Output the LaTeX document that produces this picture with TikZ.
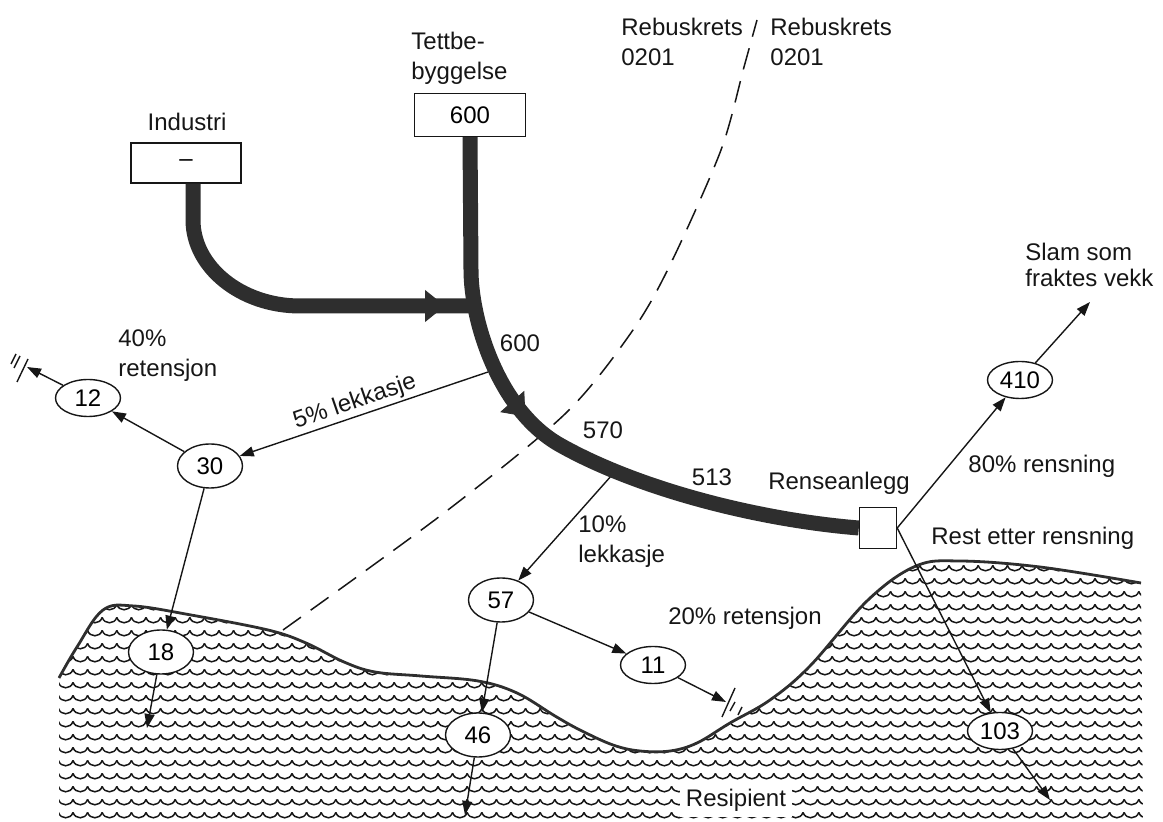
\documentclass[tikz,border=0pt]{standalone}
\usepackage{fontspec}
\setmainfont{Liberation Sans}
\usetikzlibrary{arrows.meta,shapes.geometric,decorations.markings,patterns}
\definecolor{ink}{HTML}{161616}
\definecolor{pipe}{HTML}{2E2E2E}
\pgfdeclarepatternformonly{waves}{\pgfpoint{-1pt}{-1pt}}{\pgfpoint{8.3pt}{7.5pt}}{\pgfpoint{7.3pt}{6.5pt}}{%
  \pgfsetlinewidth{0.75pt}%
  \pgfpathmoveto{\pgfpoint{0pt}{4.8pt}}%
  \pgfpathcurveto{\pgfpoint{1.1pt}{1.2pt}}{\pgfpoint{6.2pt}{1.2pt}}{\pgfpoint{7.3pt}{4.8pt}}%
  \pgfusepath{stroke}}
\tikzset{
  flow/.style={draw=pipe, line width=7.5pt},
  flowtip/.style={postaction={decorate, decoration={markings,
    mark=at position #1 with {\arrow{Triangle[length=10pt 0 0,width=16pt 0 0,line width=0.4pt 0]}}}}},
  link/.style={draw=ink, line width=0.7pt},
  arr/.style={link, -{Triangle[length=7pt,width=5pt]}},
  ell/.style={ellipse, draw=ink, line width=0.7pt, fill=white, minimum width=32.5pt,
    minimum height=18.5pt, inner sep=0pt, font=\fontsize{12}{15}\selectfont},
  ellbig/.style={ell, minimum height=22pt},
  box/.style={rectangle, draw=ink, line width=0.7pt, fill=white, inner sep=0pt,
    font=\fontsize{12}{15}\selectfont},
  lab/.style={text=ink, font=\fontsize{12}{15}\selectfont, inner sep=0pt},
  labl/.style={lab, align=left, anchor=west},
  border/.style={draw=ink, line width=0.75pt, dash pattern=on 11pt off 6pt},
  shore/.style={draw=pipe, line width=1.4pt, line join=round},
}
\begin{document}
\begin{tikzpicture}[x=0.5pt,y=-0.5pt]
  \useasboundingbox (0,0) rectangle (1163,822);
  % resipient
  \fill[pattern=waves, pattern color=ink] plot[smooth,tension=0.6] coordinates {(59,678) (77,647) (103,610) (134,606) (191,615) (268,630) (306,643) (344,662) (375,672) (421,676) (478,681) (517,693) (555,716) (580,730) (613,745) (640,751) (670,751) (697,743) (730,723) (770,700) (810,666) (868,600) (916,566) (960,561) (1040,567) (1141,583)} -- (1143,822) -- (59,822) -- cycle;
  \draw[shore] plot[smooth,tension=0.6] coordinates {(59,678) (77,647) (103,610) (134,606) (191,615) (268,630) (306,643) (344,662) (375,672) (421,676) (478,681) (517,693) (555,716) (580,730) (613,745) (640,751) (670,751) (697,743) (730,723) (770,700) (810,666) (868,600) (916,566) (960,561) (1040,567) (1141,583)};
  \draw[border] plot[smooth] coordinates {(283,630) (444,513) (566,413) (633,330) (671,263) (721,150) (744,67) (757,20)};

  % sources and plant
  \node[box, minimum width=55pt, minimum height=20pt] (indbox) at (186,163) {–};
  \node[lab] (indlab) at (187,122) {Industri};
  \node[box, minimum width=55.5pt, minimum height=21.5pt] (popbox) at (470,115) {600};
  \node[labl] (poplab) at (411,58) {Tettbe-\\byggelse};
  \node[box, minimum width=18.5pt, minimum height=20.5pt] (treat) at (878,528) {};
  \node[lab] (treatlab) at (839,483) {Renseanlegg};

  % amounts
  \node[ell] (e12) at (88,398) {12};
  \node[ellbig] (e30) at (210,466) {30};
  \node[ellbig] (e18) at (161,652) {18};
  \node[ellbig] (e57) at (501,600) {57};
  \node[ellbig] (e46) at (478,735) {46};
  \node[ell] (e11) at (653,665) {11};
  \node[ell] (e103) at (1000,731) {103};
  \node[ell] (e410) at (1020,380) {410};

  % texts
  \node[labl] (leftkrets) at (621,42) {Rebuskrets\\0201};
  \node[labl] (rightkrets) at (770,42) {Rebuskrets\\0201};
  \node[labl, font=\fontsize{12}{13}\selectfont] (slamlab) at (1025,265) {Slam som\\fraktes vekk};
  \node[labl] (ret40) at (118,356) {40\%\\retensjon};
  \node[labl] (leak10lab) at (578,542) {10\%\\lekkasje};
  \node[lab, rotate=19] (leak5lab) at (355,402) {5\% lekkasje};
  \node[lab] (q600) at (520,343) {600};
  \node[lab] (q570) at (603,430) {570};
  \node[lab] (q513) at (712,477) {513};
  \node[labl] (rens80) at (968,466) {80\% rensning};
  \node[labl] (restlab) at (931,538) {Rest etter rensning};
  \node[lab] (ret20) at (745,618) {20\% retensjon};
  \node[lab, fill=white, inner sep=3pt] (reslab) at (736,800) {Resipient};

  % free ends
  \coordinate (leak5) at (488,372);
  \coordinate (leak10) at (612,475);
  \coordinate (sink12) at (27,367);
  \coordinate (sink11) at (726,702);
  \coordinate (out18) at (147,728);
  \coordinate (out46) at (465,815);
  \coordinate (out103) at (1050,800);
  \coordinate (slam) at (1090,302);

  % thin flows
  \draw[arr] (leak5) -- (e30);
  \draw[arr] (leak10) -- (e57);
  \draw[arr] (e30) -- (e12);
  \draw[arr] (e12) -- (sink12);
  \draw[arr] (e30) -- (e18);
  \draw[arr] (e18) -- (out18);
  \draw[arr] (e57) -- (e46);
  \draw[arr] (e46) -- (out46);
  \draw[arr] (e57) -- (e11);
  \draw[arr] (e11) -- (sink11);
  \draw[arr] (treat.east) -- (e410);
  \draw[arr] (e410) -- (slam);
  \draw[arr] (treat.east) -- (e103);
  \draw[arr] (e103) -- (out103);
  % sinks
  \draw[link] (17,382) -- (28,359) (14,368) -- (20,356) (11,364) -- (16,354);
  \draw[link] (722,717) -- (735,688) (730,711) -- (735,702) (738,715) -- (742,707);

  % main pipes
  \draw[flow, flowtip=-13pt] ([xshift=3.5pt]indbox.south) -- (193,220) .. controls (193,267) and (241,306) .. (300,306) -- (471,306);
  \draw[flow, flowtip=146pt] (popbox.south) -- (471,270) .. controls (471,320) and (498,410) .. (560,445) .. controls (640,490) and (760,520) .. (treat.west);
\end{tikzpicture}
\end{document}
